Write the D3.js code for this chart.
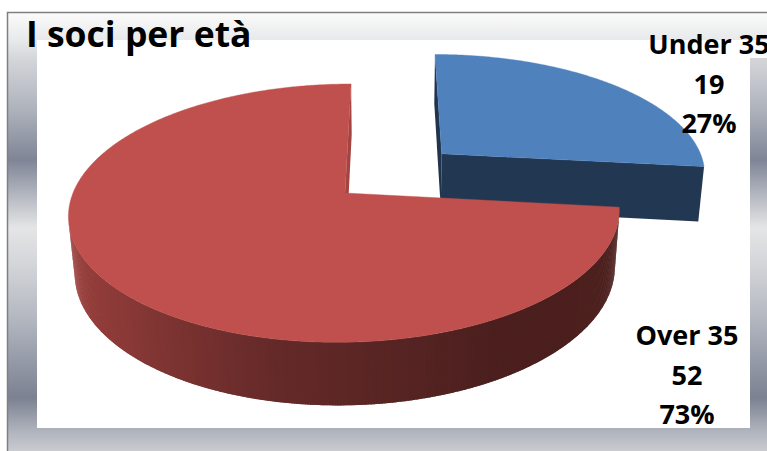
<!DOCTYPE html>
<html>
<head>
<meta charset="utf-8">
<script src="https://cdn.jsdelivr.net/npm/d3@7"></script>
<style>
body { margin: 0; background: #fff; }
</style>
</head>
<body>
<div id="chart"></div>
<script>
var title = "I soci per età";
var categories = ["Under 35", "Over 35"];
var values = [19, 52];
var sliceColors = ["#4f81bd", "#c0504d"];

var width = 767, height = 451;

// 3d view, numbers fitted by eye on the reference
var cam = {vx: 390, cy: 193, F: 1545, D: 5.68, tilt: 27.6, depth: 0.238};
var pieX = 345;
cam.xc = (cam.vx - pieX) * cam.D / cam.F;
var explode = [0.49, 0];
var ct = Math.cos(cam.tilt * Math.PI / 180),
	st = Math.sin(cam.tilt * Math.PI / 180);
var eye = [cam.xc, cam.D * st, -cam.D * ct];

function project(p) {
	var d = cam.D + p[2] * ct - p[1] * st;
	var u = p[1] * ct + p[2] * st;
	return [cam.vx + cam.F * (p[0] - cam.xc) / d, cam.cy - cam.F * u / d];
}
function depthOf(p) { return cam.D + p[2] * ct - p[1] * st; }
function facing(n, p) {
	return n[0] * (eye[0] - p[0]) + n[1] * (eye[1] - p[1]) + n[2] * (eye[2] - p[2]) > 1e-6;
}
function darken(c, k) {
	var b = d3.rgb(c);
	return d3.rgb(b.r * k, b.g * k, b.b * k).formatHex();
}

var wallLight = d3.scaleLinear()
	.domain([0, 90, 150, 190, 225, 270, 360])
	.range([0.4, 0.4, 0.39, 0.52, 0.72, 0.87, 0.9])
	.clamp(true);
var cutLight = d3.scaleLinear().domain([90, 190]).range([0.85, 0.41]).clamp(true);

var svg = d3.select("#chart").append("svg")
	.attr("width", width)
	.attr("height", height);

var defs = svg.append("defs");
var bg = defs.append("linearGradient")
	.attr("id", "bg")
	.attr("gradientUnits", "userSpaceOnUse")
	.attr("x1", 0).attr("y1", 12).attr("x2", 0).attr("y2", 451);
[[12, "#fbfbfb"], [40, "#e8e9eb"], [60, "#d3d5d9"], [110, "#aeb2bb"], [160, "#7f8596"],
	[195, "#b3b7c0"], [228, "#e5e5e6"], [265, "#d3d5d9"], [320, "#b2b6bf"], [398, "#7c8192"],
	[430, "#aeb2bb"], [451, "#c9cbd0"]].forEach(function(s) {
	bg.append("stop")
		.attr("offset", ((s[0] - 12) / (451 - 12)).toFixed(3))
		.attr("stop-color", s[1]);
});

svg.append("rect")
	.attr("x", 7.5).attr("y", 12.5)
	.attr("width", 780).attr("height", 460)
	.attr("fill", "url(#bg)")
	.attr("stroke", "#7f7f7f")
	.attr("stroke-width", 1.5);
svg.append("rect")
	.attr("x", 37).attr("y", 40)
	.attr("width", 713).attr("height", 388)
	.attr("fill", "#fff");
svg.append("rect")
	.attr("x", 750).attr("y", 40)
	.attr("width", 17).attr("height", 18)
	.attr("fill", "#fff");

var pie = d3.pie().sort(null).value(function(d) { return d; });
var arcs = pie(values);
var total = d3.sum(values);
var step = Math.PI / 360;
var line = d3.line().curve(d3.curveLinearClosed);

var slices = arcs.map(function(a, i) {
	var mid = (a.startAngle + a.endAngle) / 2;
	var ox = explode[i] * Math.sin(mid), oz = explode[i] * Math.cos(mid);
	var H = -cam.depth;
	function P(t, r, y) { return [ox + r * Math.sin(t), y, oz + r * Math.cos(t)]; }
	var faces = [];

	// radial cut faces
	[[a.startAngle, -1], [a.endAngle, 1]].forEach(function(c) {
		var t = c[0];
		var n = c[1] < 0 ? [-Math.cos(t), 0, Math.sin(t)] : [Math.cos(t), 0, -Math.sin(t)];
		if (facing(n, P(t, 0.5, H / 2))) {
			var na = (Math.atan2(n[0], n[2]) * 180 / Math.PI + 360) % 360;
			faces.push({
				pts: [P(t, 0, 0), P(t, 1, 0), P(t, 1, H), P(t, 0, H)],
				fill: darken(sliceColors[i], cutLight(na))
			});
		}
	});

	// outer wall, thin strips that overlap a little so no seams show
	var nq = Math.ceil((a.endAngle - a.startAngle) / (Math.PI / 360));
	var dt = (a.endAngle - a.startAngle) / nq;
	for (var k = 0; k < nq; k++) {
		var t0 = a.startAngle + k * dt, tm = t0 + dt / 2;
		var t1 = Math.min(a.endAngle, t0 + dt * 1.8);
		var n = [Math.sin(tm), 0, Math.cos(tm)];
		if (!facing(n, P(tm, 1, H / 2))) continue;
		faces.push({
			pts: [P(t0, 1, 0), P(t1, 1, 0), P(t1, 1, H), P(t0, 1, H)],
			fill: darken(sliceColors[i], wallLight((tm * 180 / Math.PI) % 360))
		});
	}
	faces.forEach(function(f) {
		f.depth = d3.max(f.pts, depthOf);
	});
	faces.sort(function(x, y) { return y.depth - x.depth; });

	// top face
	var top = [P(0, 0, 0)];
	for (var t = a.startAngle; t < a.endAngle; t += step) top.push(P(t, 1, 0));
	top.push(P(a.endAngle, 1, 0));

	return {
		index: i,
		faces: faces,
		top: top,
		depth: depthOf(P(mid, 0.5, 0))
	};
});
slices.sort(function(x, y) { return y.depth - x.depth; });

var pieG = svg.append("g").attr("class", "pie3d");
slices.forEach(function(s) {
	var g = pieG.append("g").attr("class", "slice slice-" + s.index);
	g.selectAll("path.side")
		.data(s.faces)
		.enter().append("path")
		.attr("class", "side")
		.attr("d", function(f) { return line(f.pts.map(project)); })
		.attr("fill", function(f) { return f.fill; });
	g.append("path")
		.attr("class", "top")
		.attr("d", line(s.top.map(project)))
		.attr("fill", sliceColors[s.index])
		.attr("stroke", sliceColors[s.index])
		.attr("stroke-width", 0.4);
});

svg.append("text")
	.attr("x", 26)
	.attr("y", 47)
	.style("font-family", "'Open Sans', sans-serif")
	.style("font-weight", 700)
	.style("font-size", "35.5px")
	.attr("fill", "#000")
	.text(title);

var labelPos = [[709, 54], [687, 345]];
arcs.forEach(function(a, i) {
	var lines = [categories[i], String(values[i]), Math.round(values[i] / total * 100) + "%"];
	svg.append("text")
		.attr("text-anchor", "middle")
		.style("font-family", "'Open Sans', sans-serif")
		.style("font-weight", 700)
		.style("font-size", "27px")
		.attr("fill", "#000")
		.selectAll("tspan")
		.data(lines)
		.enter().append("tspan")
		.attr("x", labelPos[i][0])
		.attr("y", function(d, j) { return labelPos[i][1] + j * 39.5; })
		.text(function(d) { return d; });
});
</script>
</body>
</html>
